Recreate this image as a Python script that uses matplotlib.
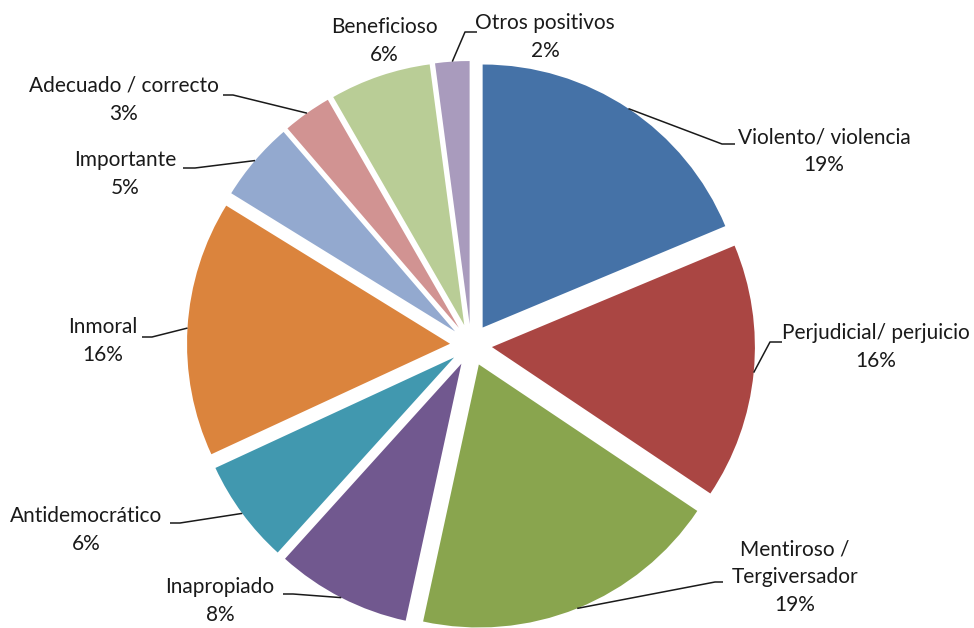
import numpy as np
import matplotlib
matplotlib.use("Agg")
import matplotlib.pyplot as plt

# categories and shares (%), clockwise from 12 o'clock (labels show rounded values)
categorias = ["Violento/ violencia", "Perjudicial/ perjuicio", "Mentiroso /\nTergiversador",
              "Inapropiado", "Antidemocrático", "Inmoral", "Importante",
              "Adecuado / correcto", "Beneficioso", "Otros positivos"]
porcentajes = [18.7, 15.7, 19.0, 8.3, 6.4, 15.7, 4.9, 3.0, 6.2, 2.1]
colores = ["#4572A7", "#AA4643", "#89A54E", "#71588F", "#4198AF",
           "#DB843D", "#93A9CF", "#D19392", "#B9CD96", "#A99BBD"]

# layout (pixel coords, origin top-left): label centre, leader end, elbow offset
W, H = 974, 628
pos_texto = [(824, 151), (876, 347), (795, 577), (220, 601), (86, 530),
             (103, 341), (125, 174), (124, 100), (384, 41), (545, 37)]
fin_linea = [(735, 144), (782, 342), (723, 582), (283, 594), (170, 523),
             (142, 337), (183, 168), (223, 95), None, (477, 32)]
codo = [-13, -12, -8, 10, 10, 10, 12, 10, 0, -12]

fig = plt.figure(figsize=(W / 100, H / 100), dpi=100)
ax = fig.add_axes([0, 0, 1, 1])

cunas, _ = ax.pie(porcentajes, colors=colores, startangle=90, counterclock=False,
                  explode=[21] * len(porcentajes), radius=263, center=(471, H - 345),
                  wedgeprops=dict(linewidth=0))

for w, nombre, v, (tx, ty), fin, dx in zip(cunas, categorias, porcentajes, pos_texto, fin_linea, codo):
    ax.text(tx, H - ty, f"{nombre}\n{round(v)}%", ha="center", va="center", fontsize=15,
            family="Lato", color="#1a1a1a", linespacing=1.5)
    if fin is None:
        continue
    ang = np.deg2rad((w.theta1 + w.theta2) / 2)
    x0 = w.center[0] + w.r * np.cos(ang)
    y0 = w.center[1] + w.r * np.sin(ang)
    ex, ey = fin
    ax.plot([x0, ex + dx, ex], [y0, H - ey, H - ey], color="#1a1a1a", lw=1.1,
            solid_capstyle="butt")

ax.set_xlim(0, W)
ax.set_ylim(0, H)
ax.set_aspect("equal")
ax.axis("off")
fig.savefig("out.png", dpi=100, facecolor="white")
